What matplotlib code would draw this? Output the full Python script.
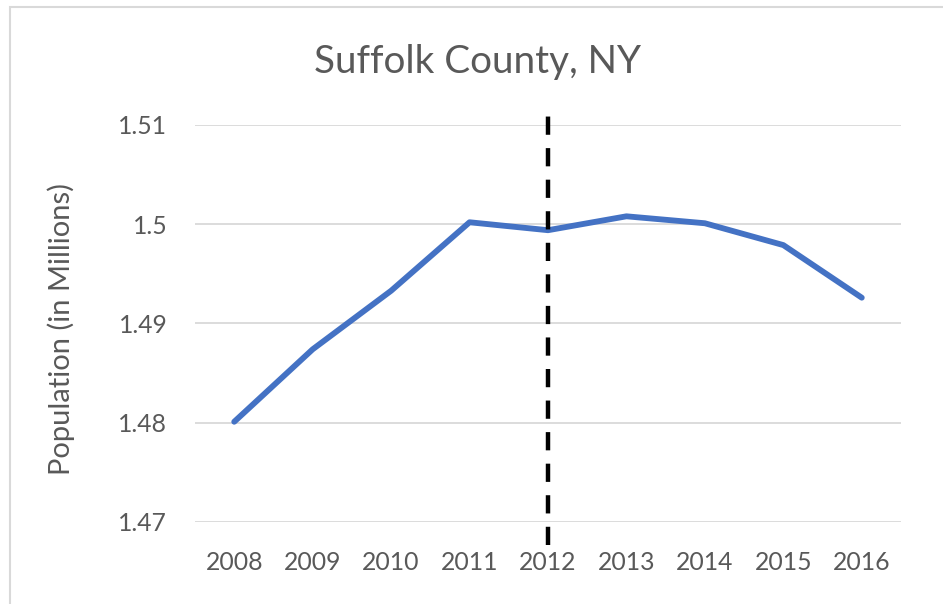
import matplotlib
matplotlib.use("Agg")
import matplotlib.pyplot as plt
from matplotlib.patches import Rectangle

years = ["2008", "2009", "2010", "2011", "2012", "2013", "2014", "2015", "2016"]
population = [1.4801, 1.4874, 1.4933, 1.5002, 1.4994, 1.5008, 1.5001, 1.4979, 1.4926]
y_ticks = [1.47, 1.48, 1.49, 1.50, 1.51]
y_tick_labels = ["1.47", "1.48", "1.49", "1.5", "1.51"]
marker_year = "2012"

FONT = ["Lato", "DejaVu Sans"]
TXT = "#595959"

fig = plt.figure(figsize=(9.43, 6.04), dpi=100)
fig.patch.set_facecolor("white")
# chart border (top/left visible)
fig.patches.append(Rectangle((10/943, -0.1), 1.2, (604-7)/604 + 0.1,
                             transform=fig.transFigure, fill=False,
                             edgecolor="#D9D9D9", linewidth=1.5))

ax = fig.add_axes([195/943, 82/604, (901-195)/943, 397/604])
x = list(range(len(years)))
ax.plot(x, population, color="#4472C4", linewidth=4.2, solid_capstyle="round",
        solid_joinstyle="round", zorder=3)
xi = years.index(marker_year)
ax.axvline(xi, ymin=-0.058, ymax=1.03, color="black", linewidth=3.2,
           linestyle=(0, (4.1, 3.0)), clip_on=False, zorder=4)

ax.set_xlim(-0.5, len(years) - 0.5)
ax.set_ylim(1.47, 1.51)
ax.set_yticks(y_ticks)
ax.set_yticklabels(y_tick_labels)
ax.set_xticks(x)
ax.set_xticklabels(years)
ax.grid(axis="y", color="#D9D9D9", linewidth=1.3)
ax.set_axisbelow(True)
for s in ax.spines.values():
    s.set_visible(False)
ax.tick_params(axis="both", length=0, labelcolor=TXT, labelsize=17.8)
ax.tick_params(axis="y", pad=20)
ax.tick_params(axis="x", pad=21)
for lab in ax.get_xticklabels() + ax.get_yticklabels():
    lab.set_family(FONT)

fig.text(61/943, 1 - 329/604, "Population (in Millions)", family=FONT,
         fontsize=21, color=TXT, rotation=90, ha="center", va="center")
fig.text(477/943, 1 - 62/604, "Suffolk County, NY", family=FONT, fontsize=27.8,
         color=TXT, ha="center", va="center")

fig.savefig("out.png", dpi=100, facecolor="white")
